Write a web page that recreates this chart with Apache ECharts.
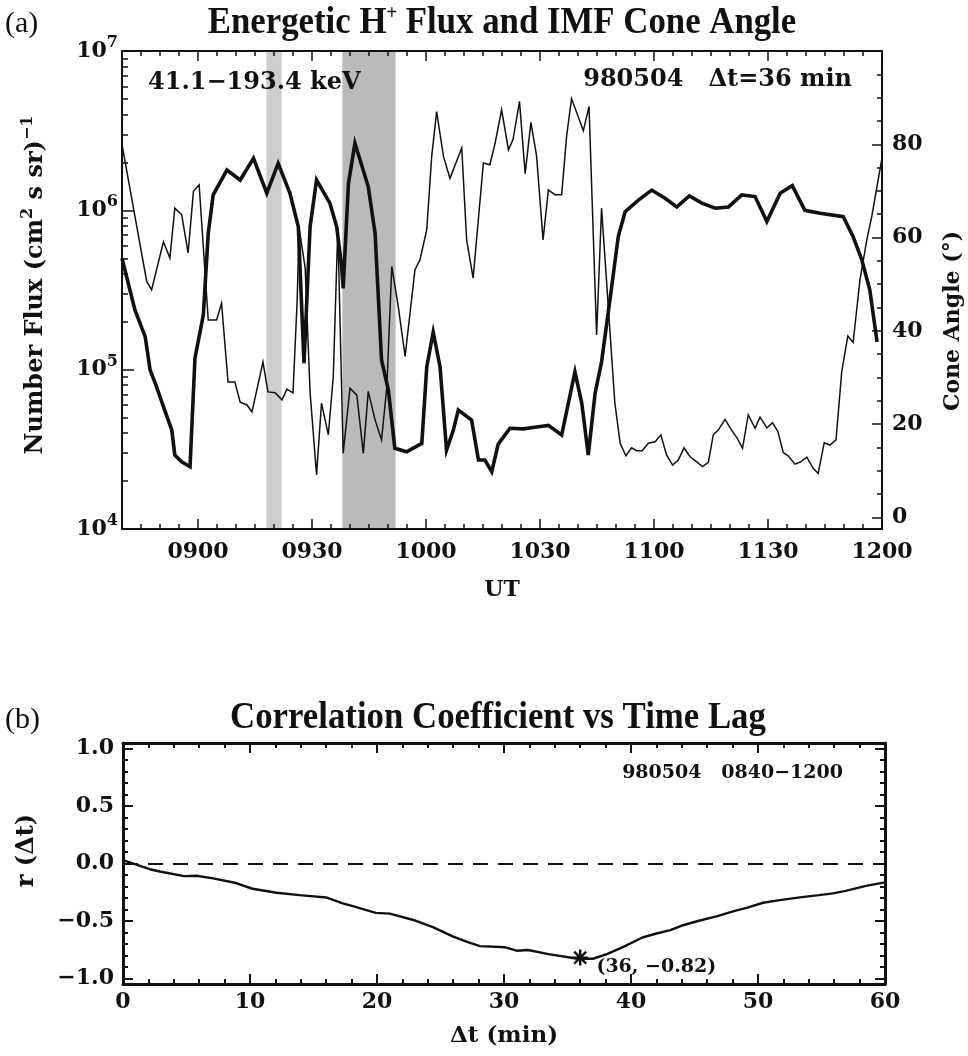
<!DOCTYPE html>
<html><head><meta charset="utf-8">
<script src="https://cdn.jsdelivr.net/npm/echarts@6/dist/echarts.min.js"></script>
<style>html,body{margin:0;padding:0;background:#fff}#c{width:968px;height:1056px}</style>
</head><body><div id="c"></div>
<script>
// ---------- Panel (a): energetic H+ flux and IMF cone angle ----------
// time in UT minutes after midnight
const fluxTime = [
 520.0,523.4,526.1,527.4,529.1,530.9,533.1,533.9,535.7,537.9,
 539.2,541.4,542.7,544.0,547.6,551.1,554.6,558.1,561.1,564.2,
 566.4,567.9,569.5,571.2,574.7,576.5,577.8,578.2,579.6,581.3,
 584.8,586.6,588.3,590.1,591.8,594.9,598.9,600.2,601.9,603.7,
 605.4,607.2,608.5,612.0,613.8,615.5,617.3,619.0,622.1,625.6,
 629.1,632.2,635.7,639.2,641.0,642.7,644.5,646.2,648.4,650.6,
 652.4,655.9,659.4,662.9,666.0,669.3,672.6,676.1,679.6,683.1,
 686.6,689.7,693.2,696.4,699.7,703.7,709.8,712.4,714.7,716.8,
 718.7];
const fluxValue = [
 5.0e5,2.37e5,1.61e5,9.96e4,7.8e4,5.86e4,4.18e4,2.91e4,2.64e4,2.46e4,
 1.18e5,2.2e5,7.18e5,1.25e6,1.79e6,1.55e6,2.12e6,1.28e6,1.97e6,1.28e6,
 7.89e5,1.10e5,7.9e5,1.55e6,1.11e6,7.89e5,4.43e5,3.24e5,1.48e6,2.64e6,
 1.41e6,7.18e5,1.15e5,7.45e4,3.21e4,3.05e4,3.45e4,1.04e5,1.72e5,1.04e5,
 3.13e4,4.18e4,5.58e4,4.83e4,2.71e4,2.71e4,2.29e4,3.41e4,4.29e4,4.25e4,
 4.37e4,4.47e4,3.89e4,9.7e4,6.15e4,2.91e4,7.11e4,1.12e5,2.74e5,6.84e5,
 9.8e5,1.16e6,1.34e6,1.19e6,1.05e6,1.23e6,1.11e6,1.03e6,1.05e6,1.25e6,
 1.22e6,8.5e5,1.28e6,1.43e6,1.0e6,9.58e5,9.13e5,6.84e5,4.88e5,3.16e5,
 1.49e5];
const coneTime = [
 520.0,526.5,527.8,530.9,532.6,533.9,535.7,537.4,538.8,540.3,
 542.7,544.9,546.2,547.9,549.7,551.1,552.9,554.2,557.1,558.4,
 560.3,562.1,563.4,565.0,566.1,566.6,568.2,569.5,571.2,572.5,
 574.3,575.6,576.8,578.2,580.0,581.8,583.5,584.8,586.6,588.3,
 589.7,591.0,592.7,594.5,597.1,598.4,600.2,601.5,602.8,604.6,
 606.3,609.4,610.7,612.4,615.1,616.8,618.2,619.9,621.7,622.9,
 624.6,626.1,627.6,629.1,630.8,632.2,633.9,635.7,637.0,638.3,
 641.4,642.9,644.9,646.2,649.7,651.1,652.6,654.1,655.4,656.9,
 658.5,660.3,661.8,663.3,664.9,666.4,667.9,669.5,671.2,672.8,
 674.3,675.6,676.9,678.7,680.4,681.8,683.3,684.8,686.6,687.9,
 689.7,691.2,692.6,694.0,695.3,697.1,698.6,700.2,701.9,703.2,
 704.8,706.3,707.9,709.4,711.0,712.4,714.2,716.0,717.3,720.0];
const coneValue = [
 79.9,50.6,48.8,59.1,55.6,66.3,64.9,56.7,69.9,71.3,
 42.3,42.3,45.9,29.0,29.0,24.7,24.1,22.6,33.3,26.9,
 26.7,25.2,27.5,26.7,46.6,62.1,53.5,26.7,9.1,24.5,
 17.7,30.2,62.1,13.7,27.7,26.2,13.7,27.0,20.9,16.6,
 28.0,53.8,45.2,34.5,53.1,55.2,61.7,77.4,87.0,77.4,
 72.7,79.2,59.5,51.3,76.0,75.6,80.3,87.4,78.8,81.0,
 89.2,73.7,84.7,77.5,59.5,70.2,69.2,69.2,81.7,89.8,
 82.9,88.1,39.1,66.3,24.5,15.9,13.2,14.9,14.3,14.3,
 15.9,16.2,17.7,13.4,11.2,12.3,14.9,13.0,11.9,10.9,
 11.8,17.7,18.7,21.0,18.7,17.1,14.8,22.0,19.1,21.5,
 19.2,20.3,18.4,13.9,13.2,11.4,11.9,12.9,10.5,9.4,
 16.0,15.5,16.6,31.2,38.9,37.5,50.9,59.5,64.5,77.1];
const utTicks = [540,570,600,630,660,690,720];
const coneTicks = [0,20,40,60,80];
const bandLight = [558,562];
const bandDark = [578,592];

// ---------- Panel (b): correlation coefficient vs time lag ----------
const lagMin = [0,2.1,2.9,4.8,5.8,7.1,8.9,10.2,12.1,13.9,
 16.0,17.3,18.1,19.9,21.0,22.8,24.4,26.0,27.1,28.1,
 30.1,31.0,31.9,33.5,35.8,37.0,38.1,39.4,40.9,42.0,
 43.1,44.1,45.2,46.8,48.1,49.1,50.4,51.7,53.3,54.8,
 55.9,56.9,58.5,60];
const corrR = [0.03,-0.05,-0.07,-0.11,-0.107,-0.13,-0.17,-0.22,-0.255,-0.276,
 -0.296,-0.348,-0.372,-0.43,-0.437,-0.49,-0.555,-0.637,-0.683,-0.72,
 -0.73,-0.76,-0.754,-0.79,-0.83,-0.83,-0.79,-0.727,-0.645,-0.61,
 -0.58,-0.538,-0.503,-0.459,-0.415,-0.386,-0.342,-0.319,-0.295,-0.276,
 -0.26,-0.238,-0.195,-0.165];
const rTicks = [-1,-0.5,0,0.5,1];
const peakLag = 36, peakR = -0.82;

// ---------- helpers ----------
const SERIF = 'DejaVu Serif';
const INK = '#111';
const zip = (a,b) => a.map((v,i)=>[v,b[i]]);
const fmtUT = v => { const h=Math.floor(v/60), m=Math.round(v-h*60); return String(h).padStart(2,'0')+String(m).padStart(2,'0'); };
const fmtR = v => (v<0?'\u2212':'') + Math.abs(v).toFixed(1);
const utMinor = []; for (let t=525;t<720;t+=5) if (t%30!==0) utMinor.push(t);
const logMinor = []; for (let n=4;n<7;n++) for (let k=2;k<=9;k++) logMinor.push(n+Math.log10(k));
const coneMinor = []; for (let a=5;a<100;a+=5) if (a%20!==0) coneMinor.push(a);
const rMinor = []; for (let i=-9;i<=9;i++) if (i%5!==0) rMinor.push(i/10);

const lab = (extra) => Object.assign({fontFamily:SERIF,fontWeight:'bold',fontSize:22,color:INK}, extra||{});
const line = (show,w) => ({show:show, onZero:false, lineStyle:{color:INK,width:w}});
const tick = (len,w,vals) => { const o={show:true,inside:true,length:len,lineStyle:{color:INK,width:w||1.5}}; if(vals) o.customValues=vals; return o; };
const supRich = (size) => ({s:{fontFamily:SERIF,fontWeight:'bold',fontSize:size,color:INK,padding:[0,0,size,0]}});

const chart = echarts.init(document.getElementById('c'), null, {renderer:'canvas'});
const option = {
  animation:false,
  backgroundColor:'#fff',
  grid:[
    {left:122, top:51, width:760, height:478, outerBoundsMode:'none', containLabel:false},
    {left:123, top:743, width:762, height:241, outerBoundsMode:'none', containLabel:false}
  ],
  xAxis:[
    {gridIndex:0,type:'value',position:'bottom',min:520,max:720,
     axisLine:line(true,2),axisTick:tick(10,1.5,utTicks),splitLine:{show:false},
     axisLabel:Object.assign(lab({margin:12}),{customValues:utTicks,formatter:fmtUT}),
     name:'UT',nameLocation:'middle',nameGap:50,nameTextStyle:lab({fontSize:22})},
    {gridIndex:0,type:'value',position:'bottom',min:520,max:720,
     axisLine:{show:false,onZero:false},axisTick:tick(5,1.5,utMinor),axisLabel:{show:false},splitLine:{show:false}},
    {gridIndex:0,type:'value',position:'top',min:520,max:720,
     axisLine:line(true,2),axisTick:tick(10,1.5,utTicks),axisLabel:{show:false},splitLine:{show:false}},
    {gridIndex:0,type:'value',position:'top',min:520,max:720,
     axisLine:{show:false,onZero:false},axisTick:tick(5,1.5,utMinor),axisLabel:{show:false},splitLine:{show:false}},
    {gridIndex:1,type:'value',position:'bottom',min:0,max:60,interval:10,
     axisLine:line(true,3),axisTick:tick(10,2),minorTick:{show:true,splitNumber:5,length:5,lineStyle:{color:INK,width:2}},
     splitLine:{show:false},minorSplitLine:{show:false},
     axisLabel:lab({margin:7}),
     name:'\u0394t (min)',nameLocation:'middle',nameGap:41,nameTextStyle:lab({fontSize:23})},
    {gridIndex:1,type:'value',position:'top',min:0,max:60,interval:10,
     axisLine:line(true,3),axisTick:tick(10,2),minorTick:{show:true,splitNumber:5,length:5,lineStyle:{color:INK,width:2}},
     splitLine:{show:false},minorSplitLine:{show:false},axisLabel:{show:false}}
  ],
  yAxis:[
    {gridIndex:0,type:'log',logBase:10,min:1e4,max:1e7,position:'left',
     axisLine:line(true,2),axisTick:tick(12,1.5),splitLine:{show:false},minorSplitLine:{show:false},
     axisLabel:lab({margin:4,formatter:v=>'10{s|'+Math.round(Math.log10(v))+'}',rich:supRich(16)}),
     name:'Number Flux (cm{s|2} s sr){s|\u22121}',nameLocation:'middle',nameGap:70,
     nameTextStyle:lab({fontSize:24,padding:[0,0,0,10],rich:supRich(16)})},
    {gridIndex:0,type:'value',min:4,max:7,position:'left',
     axisLine:{show:false,onZero:false},axisTick:tick(6,1.5,logMinor),axisLabel:{show:false},splitLine:{show:false}},
    {gridIndex:0,type:'value',min:-2.5,max:100,position:'right',
     axisLine:line(true,2),axisTick:tick(10,1.5,coneTicks),splitLine:{show:false},
     axisLabel:Object.assign(lab({margin:10}),{customValues:coneTicks}),
     name:'Cone Angle (\u00b0)',nameLocation:'middle',nameGap:60,
     nameTextStyle:lab({fontSize:22,padding:[0,62,0,0]})},
    {gridIndex:0,type:'value',min:-2.5,max:100,position:'right',
     axisLine:{show:false,onZero:false},axisTick:tick(5,1.5,coneMinor),axisLabel:{show:false},splitLine:{show:false}},
    {gridIndex:1,type:'value',min:-1.05,max:1.05,position:'left',
     axisLine:line(true,3),axisTick:tick(10,2,rTicks),splitLine:{show:false},
     axisLabel:Object.assign(lab({margin:9,formatter:fmtR}),{customValues:rTicks}),
     name:'r (\u0394t)',nameLocation:'middle',nameGap:84,nameTextStyle:lab({fontSize:24,padding:[0,0,0,26]})},
    {gridIndex:1,type:'value',min:-1.05,max:1.05,position:'left',
     axisLine:{show:false,onZero:false},axisTick:tick(5,2,rMinor),axisLabel:{show:false},splitLine:{show:false}},
    {gridIndex:1,type:'value',min:-1.05,max:1.05,position:'right',
     axisLine:line(true,3),axisTick:tick(10,2,rTicks),axisLabel:{show:false},splitLine:{show:false}},
    {gridIndex:1,type:'value',min:-1.05,max:1.05,position:'right',
     axisLine:{show:false,onZero:false},axisTick:tick(5,2,rMinor),axisLabel:{show:false},splitLine:{show:false}}
  ],
  series:[
    {name:'shade',type:'line',xAxisIndex:0,yAxisIndex:2,data:[],silent:true,z:0,
     markArea:{silent:true,z:0,data:[
       [{xAxis:bandLight[0],itemStyle:{color:'#cdcdcd'}},{xAxis:bandLight[1]}],
       [{xAxis:bandDark[0],itemStyle:{color:'#bababa'}},{xAxis:bandDark[1]}]
     ]}},
    {name:'Flux',type:'line',xAxisIndex:0,yAxisIndex:0,data:zip(fluxTime,fluxValue),
     showSymbol:false,symbol:'none',z:3,lineStyle:{color:INK,width:3.6,join:'miter',miterLimit:6}},
    {name:'Cone',type:'line',xAxisIndex:0,yAxisIndex:2,data:zip(coneTime,coneValue),
     showSymbol:false,symbol:'none',z:4,lineStyle:{color:INK,width:1.5,join:'miter',miterLimit:6}},
    {name:'r',type:'line',xAxisIndex:4,yAxisIndex:4,data:zip(lagMin,corrR),
     showSymbol:false,symbol:'none',lineStyle:{color:INK,width:2.4},
     markLine:{silent:true,symbol:'none',label:{show:false},
       lineStyle:{color:INK,width:2.2,type:[15,10]},data:[{yAxis:0}]}},
    {name:'peak',type:'scatter',xAxisIndex:4,yAxisIndex:4,data:[[peakLag,peakR]],z:5,
     symbol:'path://M8,0L8,16M0,8L16,8M2,2L14,14M14,2L2,14',symbolSize:16,
     itemStyle:{color:'rgba(0,0,0,0)',borderColor:INK,borderWidth:2.4,opacity:1},
     label:{show:true,position:'right',offset:[2,9],
       formatter:'('+peakLag+', '+(peakR<0?'\u2212':'')+Math.abs(peakR).toFixed(2)+')',
       fontFamily:SERIF,fontWeight:'bold',fontSize:19,color:INK,opacity:1}}
  ],
  graphic:[
    {type:'text',x:5,y:24,z:100,style:{text:'(a)',fontFamily:'Liberation Serif',fontSize:30,fill:INK,verticalAlign:'middle'}},
    {type:'text',x:502,y:23,z:100,scaleX:0.94,style:{text:'Energetic H{p|+} Flux and IMF Cone Angle',fontFamily:'Liberation Serif',fontWeight:'bold',fontSize:37,fill:INK,align:'center',verticalAlign:'middle',
      rich:{p:{fontFamily:'Liberation Serif',fontWeight:'bold',fontSize:20,fill:INK,padding:[0,0,18,0]}}}},
    {type:'text',x:148,y:83,z:100,style:{text:'41.1\u2212193.4 keV',fontFamily:SERIF,fontWeight:'bold',fontSize:24,fill:INK,verticalAlign:'middle'}},
    {type:'text',x:852,y:80,z:100,style:{text:'980504   \u0394t=36 min',fontFamily:SERIF,fontWeight:'bold',fontSize:24,fill:INK,align:'right',verticalAlign:'middle'}},
    {type:'text',x:5,y:720,z:100,style:{text:'(b)',fontFamily:'Liberation Serif',fontSize:30,fill:INK,verticalAlign:'middle'}},
    {type:'text',x:498,y:718,z:100,scaleX:0.94,style:{text:'Correlation Coefficient vs Time Lag',fontFamily:'Liberation Serif',fontWeight:'bold',fontSize:37,fill:INK,align:'center',verticalAlign:'middle'}},
    {type:'text',x:843,y:773,z:100,style:{text:'980504   0840\u22121200',fontFamily:SERIF,fontWeight:'bold',fontSize:19,fill:INK,align:'right',verticalAlign:'middle'}}
  ]
};
chart.setOption(option);
</script>
</body></html>
